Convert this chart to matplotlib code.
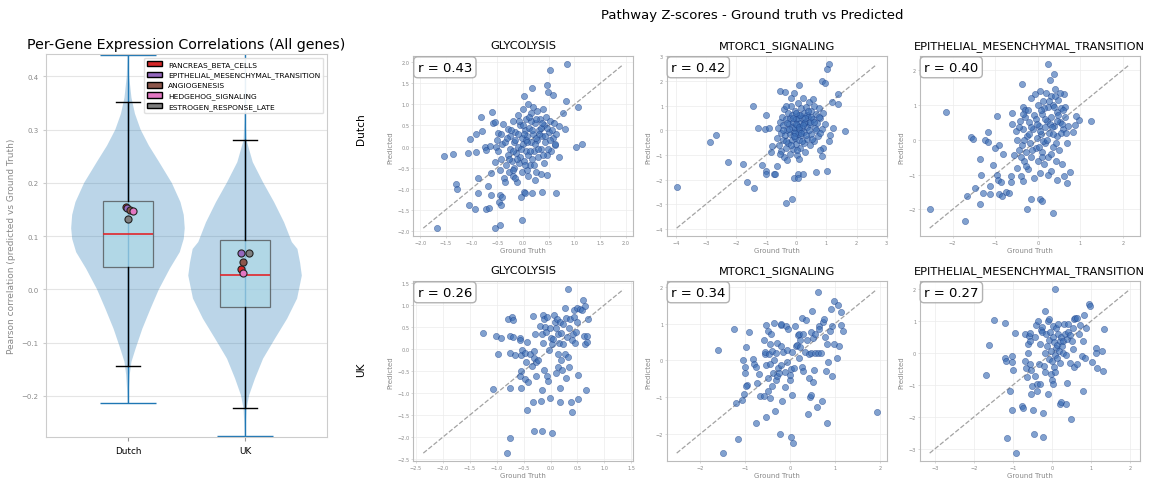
import numpy as np
import matplotlib
matplotlib.use('Agg')
import matplotlib.pyplot as plt
from matplotlib.patches import Patch
from matplotlib.ticker import MultipleLocator

plt.rcParams['font.family'] = ['DejaVu Sans']

# ---------------- 左图：每基因相关性（小提琴 + 箱线） ----------------
cohorts = ['Dutch', 'UK']

# 核密度轮廓（相关系数, 相对密度）
dutch_kde_y = [-0.214, -0.19, -0.16, -0.136, -0.111, -0.074, -0.036, 0.0, 0.039, 0.07,
               0.095, 0.115, 0.14, 0.164, 0.2, 0.24, 0.27, 0.30, 0.33, 0.36, 0.40, 0.4405]
dutch_kde_d = [0.3, 0.8, 1.8, 3.5, 7.7, 14.4, 22.7, 31, 42, 52,
               56, 57, 56, 52.7, 44, 31, 21, 12.7, 7, 3.5, 1.2, 0.4]
uk_kde_y = [-0.276, -0.25, -0.224, -0.199, -0.167, -0.13, -0.092, -0.055, -0.017, 0.026,
            0.05, 0.076, 0.089, 0.126, 0.164, 0.201, 0.239, 0.28, 0.32, 0.38, 0.52]
uk_kde_d = [0.3, 0.8, 1.5, 4, 10, 18, 30, 42, 52, 56.7,
            55, 52.3, 46.7, 39, 29, 18, 7.7, 1.5, 0.6, 0.2, 0.05]
violin_min = [-0.214, -0.276]
violin_max = [0.4405, 0.52]

box_q1 = [0.042, -0.033]
box_med = [0.105, 0.028]
box_q3 = [0.166, 0.093]
whisker_lo = [-0.1435, -0.222]
whisker_hi = [0.351, 0.2805]

pathways = ['PANCREAS_BETA_CELLS', 'EPITHELIAL_MESENCHYMAL_TRANSITION', 'ANGIOGENESIS',
            'HEDGEHOG_SIGNALING', 'ESTROGEN_RESPONSE_LATE']
pathway_colors = ['#d62728', '#9467bd', '#8c564b', '#e377c2', '#7f7f7f']
pathway_corr_dutch = [0.155, 0.153, 0.149, 0.148, 0.132]
pathway_corr_uk = [0.0375, 0.068, 0.051, 0.031, 0.068]
jitter_dutch = [-0.015, -0.01, 0.02, 0.045, 0.0]
jitter_uk = [-0.032, -0.037, -0.015, -0.015, 0.036]

# ---------------- 右图：通路 Z 分数（真实值, 预测值） ----------------
dutch_glycolysis = np.array([
    (-1.675, -1.94), (-1.54, -0.22), (-1.36, -0.17), (-1.3, -0.89), (-1.28, -1.0), (-1.07, -0.16),
    (-1.04, 0.19), (-1.05, -1.38), (-0.94, -1.49), (-0.92, 0.29), (-0.92, -0.13), (-0.88, -1.11),
    (-0.88, -0.76), (-0.81, 0.71), (-0.79, 0.37), (-0.74, 0.0), (-0.73, -0.08), (-0.72, -1.48),
    (-0.675, -0.94), (-0.67, -1.46), (-0.64, 0.02), (-0.625, -1.16), (-0.63, -0.62), (-0.6, 0.83),
    (-0.58, 0.57), (-0.54, 0.59), (-0.54, -1.94), (-0.54, -0.37), (-0.52, -0.02), (-0.48, 0.32),
    (-0.46, -1.31), (-0.45, -1.87), (-0.44, -1.16), (-0.41, -1.21), (-0.425, -1.4), (-0.39, 0.53),
    (-0.025, -1.75), (0.01, -1.07), (0.04, -1.1), (-0.04, -1.21), (0.18, -1.11), (0.17, 1.38),
    (0.02, 1.2), (0.375, -1.08), (0.64, -1.11), (0.525, 1.81), (0.856, 1.95), (0.46, 1.46),
    (0.49, 1.29), (0.59, 1.22), (0.84, 1.07), (1.06, 0.95), (1.025, 0.0), (1.14, 0.05),
    (0.81, 0.41), (0.77, 0.80), (0.69, 0.48), (0.7, -0.24), (0.62, 0.03), (0.47, -0.67),
    (0.34, -0.65), (0.225, -0.79),
    (-0.45, -0.55), (-0.42, -0.3), (-0.4, 0.05), (-0.38, -0.75), (-0.35, 0.1), (-0.33, -0.45),
    (-0.3, 0.42), (-0.3, -0.2), (-0.28, -0.6), (-0.26, 0.25), (-0.25, -0.05), (-0.22, -0.35),
    (-0.2, 0.6), (-0.2, -0.7), (-0.18, 0.1), (-0.17, -0.5), (-0.15, 0.35), (-0.14, -0.15),
    (-0.12, -0.85), (-0.1, 0.75), (-0.1, 0.0), (-0.08, -0.4), (-0.06, 0.5), (-0.05, -0.25),
    (-0.03, 0.2), (-0.02, -0.6), (0.0, 0.9), (0.0, 0.05), (0.02, -0.35), (0.03, 0.4),
    (0.05, -0.1), (0.06, 0.65), (0.08, -0.55), (0.08, 0.25), (0.1, 1.0), (0.1, -0.2),
    (0.12, 0.45), (0.13, -0.45), (0.15, 0.1), (0.16, 0.8), (0.18, -0.3), (0.2, 0.3),
    (0.2, 0.95), (0.22, -0.1), (0.24, 0.55), (0.25, -0.6), (0.27, 0.15), (0.28, 0.85),
    (0.3, -0.25), (0.31, 0.4), (0.33, 0.65), (0.35, -0.05), (0.36, 0.25), (0.38, 0.9),
    (0.4, -0.4), (0.41, 0.5), (0.43, 0.1), (0.45, 0.7), (0.47, -0.2), (0.5, 0.35),
    (0.52, 0.6), (0.55, -0.1), (0.58, 0.2), (0.6, 0.55), (0.63, 0.05), (0.65, 0.3),
    (-0.5, 0.15), (-0.48, -0.1), (0.0, 0.5), (0.15, 0.6), (-0.1, 0.3), (0.25, 0.2),
    (0.05, 0.15), (-0.2, -0.1), (0.35, 0.45),
    (-0.35, -0.85), (-0.32, 0.2), (-0.27, -0.3), (-0.23, 0.4), (-0.19, -0.55), (-0.16, 0.15),
    (-0.11, -0.3), (-0.07, 0.6), (-0.04, -0.05), (0.01, 0.3), (0.04, -0.45), (0.07, 0.1),
    (0.11, 0.7), (0.14, -0.1), (0.17, 0.4), (0.21, -0.45), (0.23, 0.05), (0.26, 0.65),
    (0.29, -0.05), (0.32, 0.3), (0.37, 0.55), (0.39, -0.2), (0.42, 0.25), (0.46, 0.45),
    (0.49, -0.05), (0.53, 0.15), (0.57, 0.4), (-0.42, 0.3), (-0.15, -0.75), (0.09, -0.7),
])

dutch_mtorc1 = np.array([
    (-3.97, -2.32), (-2.87, -0.47), (-2.66, -0.19), (-2.27, -1.29), (-1.78, -1.36), (-1.63, -2.08),
    (-1.40, -2.33), (-1.44, 0.97), (-1.27, 0.08), (-1.13, -1.40), (-1.04, 0.07), (-0.99, 0.63),
    (-1.01, -1.66), (-1.0, -1.78), (-0.92, 0.11), (-0.84, -0.88), (-0.81, -0.64), (-0.73, -1.79),
    (-0.69, -1.77), (-0.64, -1.44), (-0.53, 1.59), (-0.37, 1.55), (-0.19, 1.33), (0.10, 1.85),
    (-0.08, 1.5), (-0.35, -2.95), (-0.15, -2.77), (-0.08, -1.95), (0.06, -1.78), (0.21, -1.79),
    (0.06, -1.95), (0.64, -1.71), (1.02, -1.66), (1.10, 2.67), (1.03, 2.49), (0.84, 2.0),
    (0.96, 1.92), (1.40, 1.47), (1.38, 1.08), (1.18, 1.15), (1.21, 0.10), (1.62, -0.04),
    (1.13, -0.18), (1.10, -0.42), (0.9, -0.71), (0.84, -1.03), (0.79, -0.81),
    (-0.65, -0.3), (-0.6, 0.1), (-0.58, -0.6), (-0.55, 0.35), (-0.52, -0.1), (-0.5, -0.85),
    (-0.48, 0.55), (-0.45, -0.4), (-0.43, 0.2), (-0.4, -1.1), (-0.4, 0.85), (-0.38, -0.2),
    (-0.35, 0.45), (-0.33, -0.7), (-0.3, 0.0), (-0.28, -0.5), (-0.27, 0.7), (-0.25, 0.25),
    (-0.22, -0.95), (-0.2, -0.15), (-0.2, 0.5), (-0.18, 1.0), (-0.15, -0.4), (-0.13, 0.15),
    (-0.1, -0.75), (-0.1, 0.35), (-0.08, -0.05), (-0.05, 0.8), (-0.05, -0.3), (-0.03, 0.1),
    (0.0, -0.55), (0.0, 0.45), (0.02, -1.0), (0.03, 0.2), (0.05, -0.15), (0.06, 1.1),
    (0.08, 0.6), (0.1, -0.4), (0.1, 0.05), (0.12, 0.3), (0.14, -0.7), (0.15, 0.9),
    (0.17, -0.2), (0.2, 0.5), (0.2, 0.1), (0.22, 1.3), (0.24, -0.5), (0.25, 0.7),
    (0.27, -0.05), (0.3, 0.35), (0.3, -0.9), (0.33, 0.95), (0.35, 0.15), (0.37, -0.35),
    (0.4, 0.55), (0.42, 1.15), (0.45, -0.6), (0.47, 0.25), (0.5, 0.8), (0.5, -0.15),
    (0.55, 0.45), (0.58, 1.0), (0.6, -0.45), (0.62, 0.1), (0.65, 0.65), (0.7, 0.3),
    (0.72, -0.25), (0.75, 0.9), (0.8, 0.5), (0.85, 0.05), (0.9, 0.7), (0.95, 0.25),
    (-0.15, 0.6), (0.05, 0.5), (0.15, -0.1), (-0.3, 0.3), (0.35, 0.6), (0.25, 0.3),
    (-0.05, -0.1), (0.45, 0.35),
    (-0.55, -0.95), (-0.45, 0.0), (-0.35, -0.45), (-0.25, 0.05), (-0.18, -0.6), (-0.12, 0.5),
    (-0.07, -0.25), (0.0, 0.25), (0.04, -0.8), (0.09, 0.15), (0.13, 0.6), (0.18, -0.45),
    (0.23, 0.2), (0.28, 0.5), (0.32, -0.2), (0.38, 0.8), (0.43, 0.0), (0.48, 0.55),
    (0.53, -0.35), (0.6, 0.35), (0.67, 0.0), (0.75, 0.55), (-0.3, -1.2), (0.1, -1.15),
    (0.0, 0.7), (-0.35, 1.0), (0.55, 1.25), (0.8, -0.1),
])

dutch_emt = np.array([
    (-2.54, -1.98), (-2.16, 0.79), (-1.72, -2.34), (-1.67, -1.62), (-1.58, 0.08), (-1.53, 0.02),
    (-1.47, -1.38), (-1.35, -1.84), (-1.35, -0.55), (-1.33, -1.02), (-1.28, -1.53), (-1.23, -0.01),
    (-1.17, 0.23), (-1.17, -0.06), (-1.13, -1.32), (-1.13, -1.55), (-1.06, -0.73), (-1.01, -0.24),
    (-0.97, 0.67), (-0.95, -1.0), (-0.94, -1.17), (-0.91, -1.55), (-0.86, -1.22), (-0.83, -1.62),
    (-0.91, -0.16), (-0.81, -0.4), (-0.74, -1.50), (-0.68, -1.52), (-0.64, -1.05), (-0.62, -1.22),
    (-0.60, 0.76), (-0.60, 0.44), (-0.37, 1.59), (-0.34, 0.93), (-0.30, 0.65), (-0.26, -1.98),
    (-0.16, -1.70), (0.05, -1.69), (0.09, -1.75), (0.23, 2.16), (0.28, 1.70), (0.36, -2.12),
    (0.39, 1.89), (0.96, 0.56), (1.24, 0.54), (0.90, 0.68), (0.87, 0.43), (0.83, 0.22),
    (0.76, -0.94), (0.69, -1.23), (0.61, -1.05), (0.44, -1.16),
    (-0.55, -0.45), (-0.52, 0.25), (-0.5, -0.8), (-0.48, 0.0), (-0.45, -0.3), (-0.42, 0.55),
    (-0.4, -1.05), (-0.38, -0.15), (-0.35, 0.3), (-0.33, -0.6), (-0.3, 0.85), (-0.28, -0.35),
    (-0.25, 0.1), (-0.23, -0.85), (-0.2, 0.5), (-0.18, -0.1), (-0.15, 1.2), (-0.15, -0.5),
    (-0.12, 0.3), (-0.1, -1.1), (-0.08, 0.7), (-0.05, -0.25), (-0.03, 0.05), (0.0, 1.0),
    (0.0, -0.6), (0.02, 0.4), (0.05, -0.95), (0.06, 1.4), (0.08, 0.15), (0.1, -0.35),
    (0.1, 0.75), (0.13, 1.1), (0.15, -0.7), (0.16, 0.35), (0.18, -0.1), (0.2, 1.35),
    (0.22, 0.55), (0.24, -0.5), (0.25, 0.95), (0.27, 0.2), (0.3, 1.25), (0.3, -0.9),
    (0.32, 0.65), (0.35, -0.2), (0.36, 1.0), (0.38, 0.4), (0.4, 1.45), (0.42, -0.6),
    (0.44, 0.8), (0.45, 0.1), (0.47, 1.15), (0.5, -0.3), (0.52, 0.5), (0.55, 0.9),
    (0.57, -0.7), (0.6, 0.3), (0.62, 1.3), (0.65, 0.65), (0.68, -0.1), (0.7, 0.4),
    (-0.35, 0.75), (-0.05, 0.6), (0.12, -0.05), (0.28, 0.45), (0.45, 0.55), (0.05, 0.25),
    (-0.2, 0.15), (0.35, 0.15), (0.15, 0.9), (0.55, 0.2),
    (-0.45, 0.35), (-0.4, -0.5), (-0.32, 0.0), (-0.27, -0.75), (-0.22, 0.85), (-0.17, 0.35),
    (-0.13, -0.3), (-0.07, 1.3), (-0.02, 0.45), (0.03, -0.2), (0.07, 0.85), (0.11, -0.5),
    (0.17, 0.6), (0.21, 0.0), (0.26, 1.1), (0.31, -0.4), (0.34, 0.35), (0.39, 0.95),
    (0.43, -0.1), (0.48, 0.7), (0.53, 1.35), (0.58, 0.45), (0.63, 0.95), (0.66, 0.2),
    (0.25, -1.0), (-0.35, -1.2), (0.4, 1.25), (0.6, 0.85),
])

uk_glycolysis = np.array([
    (-1.25, 0.36), (-1.02, 0.30), (-0.92, 0.25), (-0.97, -0.11), (-1.07, -0.91), (-0.78, 0.67),
    (-0.72, 0.73), (-0.69, 0.65), (-0.75, 0.30), (-0.69, 0.27), (-0.76, -0.08), (-0.75, -0.89),
    (-0.76, -2.02), (-0.80, -2.36), (-0.65, -0.14), (-0.57, 0.26), (-0.56, 0.21), (-0.55, -0.14),
    (-0.54, -0.50), (-0.57, -0.61), (-0.54, -0.88), (-0.52, -0.02), (-0.48, -0.08), (-0.44, 0.17),
    (-0.45, -0.30), (-0.48, -0.68), (-0.44, -1.38), (-0.42, -0.74), (-0.38, -0.11), (-0.35, -0.38),
    (-0.33, 0.75), (-0.31, -0.05), (-0.33, -1.21), (-0.31, -1.86), (-0.30, -0.20), (-0.28, 0.33),
    (-0.27, -0.61), (-0.27, -0.30), (-0.23, -0.24), (-0.19, 0.53), (-0.17, -1.17), (-0.15, -0.92),
    (-0.15, -1.85), (-0.14, 0.78), (-0.13, 0.69), (-0.15, 0.33), (-0.14, 0.14), (-0.12, -0.48),
    (-0.10, 0.50), (-0.09, 0.39), (-0.07, 0.73), (-0.06, -0.61), (-0.04, -0.73), (-0.03, -0.03),
    (-0.01, -1.11), (-0.01, 0.48), (0.01, 0.24), (0.02, -1.91), (0.03, 0.11), (0.05, 0.23),
    (0.07, 0.78), (0.08, 0.61), (0.10, 0.48), (0.11, -0.55), (0.12, 0.67), (0.14, 0.35),
    (0.13, -0.11), (0.14, -0.40), (0.15, 0.14), (0.17, -0.88), (0.17, -1.20), (0.18, 0.61),
    (0.19, -0.26), (0.20, 0.36), (0.22, -0.48), (0.23, 0.11), (0.24, 0.56), (0.26, 0.92),
    (0.27, -0.11), (0.28, -0.65), (0.29, 0.70), (0.30, 0.27), (0.32, 1.35), (0.33, -0.18),
    (0.34, 0.48), (0.35, -0.41), (0.36, 0.67), (0.38, -1.21), (0.39, 0.20), (0.40, -1.42),
    (0.41, 0.35), (0.43, 0.89), (0.44, 0.73), (0.46, 0.14), (0.48, 0.39), (0.49, 0.61),
    (0.50, 0.94), (0.51, -1.14), (0.51, -0.58), (0.54, 0.91), (0.59, 0.88), (0.60, 1.12),
    (0.62, 0.29), (0.64, 0.12), (0.64, 0.98), (0.66, -0.93), (0.67, 0.30), (0.68, 0.17),
    (0.69, 0.69),
])

uk_mtorc1 = np.array([
    (-1.62, 0.28), (-1.49, -2.53), (-1.26, 0.85), (-1.21, -1.16), (-1.17, -2.15), (-1.07, -1.07),
    (-1.04, -0.91), (-1.05, 0.02), (-0.99, 0.37), (-1.0, -0.18), (-1.0, -0.35), (-0.97, -0.66),
    (-0.98, -0.71), (-0.92, 0.76), (-0.83, 0.04), (-0.81, -0.11), (-0.77, -0.18), (-0.77, -1.71),
    (-0.74, -0.63), (-0.70, -0.36), (-0.67, -0.96), (-0.59, -0.98), (-0.59, 0.56), (-0.57, 0.18),
    (-0.55, 0.22), (-0.54, -1.55), (-0.53, -0.12), (-0.53, 0.95), (-0.50, 0.81), (-0.50, -0.47),
    (-0.49, -0.84), (-0.47, 0.18), (-0.46, -0.09), (-0.45, 0.45), (-0.44, -1.02), (-0.42, 0.71),
    (-0.41, 0.25), (-0.41, -0.71), (-0.38, -0.34), (-0.37, 1.02), (-0.36, 0.0), (-0.34, -1.38),
    (-0.32, 0.2), (-0.31, -0.53), (-0.29, -0.42), (-0.29, 0.47), (-0.26, -0.21), (-0.25, -0.35),
    (-0.23, -2.0), (-0.21, 0.97), (-0.20, 1.0), (-0.20, 0.38), (-0.20, -0.13), (-0.18, -1.12),
    (-0.16, 0.22), (-0.12, -0.73), (-0.11, -0.33), (-0.10, 0.93), (-0.08, -0.05), (-0.06, 0.27),
    (-0.04, 0.84), (-0.01, -0.55), (0.0, -0.41), (0.02, -0.25), (0.03, -2.09), (0.04, 0.22),
    (0.05, -0.95), (0.07, -2.26), (0.08, -0.21), (0.11, 0.93), (0.12, 0.40), (0.15, 0.42),
    (0.17, 0.70), (0.20, 0.05), (0.20, 0.71), (0.22, 0.56), (0.23, 0.35), (0.26, 1.15),
    (0.27, -0.18), (0.29, 0.73), (0.29, -0.29), (0.32, 0.22), (0.35, 1.09), (0.37, 0.55),
    (0.39, -1.47), (0.41, -0.47), (0.43, 0.18), (0.44, -1.0), (0.46, 0.20), (0.47, 0.78),
    (0.47, -0.95), (0.48, 1.35), (0.50, 0.60), (0.52, -0.59), (0.53, -0.27), (0.55, 0.20),
    (0.56, 0.73), (0.59, -1.27), (0.61, 0.20), (0.62, 1.85), (0.64, 0.94), (0.65, 0.84),
    (0.68, 0.20), (0.71, -1.11), (0.73, 1.05), (0.76, 1.13), (0.78, 0.64), (0.79, -0.30),
    (0.82, 0.45), (0.83, -1.70), (0.84, -0.04), (0.88, 0.80), (0.91, 1.40), (0.93, 0.93),
    (0.94, -0.44), (0.97, 0.44), (0.98, 1.62), (1.05, 0.05), (1.07, 1.50), (1.10, 0.39),
    (1.14, 1.32), (1.14, 0.97), (1.18, 0.81), (1.93, -1.41),
])

uk_emt = np.array([
    (-1.70, -0.70), (-1.61, 0.24), (-1.48, 1.03), (-1.21, 0.93), (-1.20, -0.16), (-1.19, -0.26),
    (-1.15, -2.67), (-1.08, -1.18), (-1.04, -0.09), (-1.04, -0.28), (-1.04, -1.78), (-1.0, -0.53),
    (-0.94, 0.63), (-0.92, -3.14), (-0.78, -1.66), (-0.75, -1.72), (-0.69, 0.58), (-0.69, -0.26),
    (-0.67, -0.48), (-0.65, -0.76), (-0.63, 0.28), (-0.61, -0.01), (-0.60, 0.52), (-0.58, 0.39),
    (-0.58, 0.64), (-0.56, -0.34), (-0.54, -1.30), (-0.53, -0.52), (-0.52, -1.05), (-0.49, -1.80),
    (-0.47, -2.53), (-0.45, -0.73), (-0.43, 0.51), (-0.41, 0.89), (-0.39, -0.97), (-0.38, -1.18),
    (-0.37, 1.01), (-0.34, -0.36), (-0.32, 0.28), (-0.31, -0.97), (-0.29, 0.72), (-0.27, 0.82),
    (-0.25, 0.65), (-0.24, -2.64), (-0.23, -1.89), (-0.22, -0.40), (-0.19, -0.01), (-0.17, -0.61),
    (-0.17, 1.30), (-0.15, 0.59), (-0.14, 0.22), (-0.11, -1.28), (-0.10, 0.99), (-0.08, 0.41),
    (-0.08, -0.20), (-0.07, 1.07), (-0.05, 0.66), (-0.03, 0.07), (-0.02, -0.66), (-0.01, -0.84),
    (0.0, -0.24), (0.01, 0.51), (0.02, -0.97), (0.03, 0.86), (0.04, -0.45), (0.05, 0.33),
    (0.07, -0.07), (0.08, 1.99), (0.08, -0.61), (0.10, 0.78), (0.10, 0.16), (0.12, 0.24),
    (0.13, -0.16), (0.14, 0.59), (0.15, 0.91), (0.17, 0.07), (0.19, 0.36), (0.19, -0.30),
    (0.21, -1.61), (0.22, -1.54), (0.23, 0.49), (0.25, 0.22), (0.27, 0.01), (0.29, 0.36),
    (0.31, 0.91), (0.32, 0.59), (0.35, -1.59), (0.36, -0.05), (0.37, -0.95), (0.38, 0.43),
    (0.41, 0.66), (0.42, 0.91), (0.45, -0.30), (0.47, 0.57), (0.48, -2.06), (0.50, 0.39),
    (0.53, 0.78), (0.54, 0.13), (0.56, 1.05), (0.57, -0.45), (0.59, 1.11), (0.63, -0.36),
    (0.65, 1.09), (0.69, 0.61), (0.72, 0.89), (0.76, -0.11), (0.78, -1.18), (0.80, 0.39),
    (0.83, 1.20), (0.85, -0.16), (0.88, 0.78), (0.95, 1.53), (0.96, 1.47), (1.02, -0.28),
    (1.12, 0.16), (1.13, 0.01), (1.14, -0.47), (1.29, 0.05), (1.31, -0.57), (1.32, 0.74),
])

panel_titles = ['GLYCOLYSIS', 'MTORC1_SIGNALING', 'EPITHELIAL_MESENCHYMAL_TRANSITION']
panel_data = [[dutch_glycolysis, dutch_mtorc1, dutch_emt],
              [uk_glycolysis, uk_mtorc1, uk_emt]]
panel_r = [[0.43, 0.42, 0.40], [0.26, 0.34, 0.27]]
tick_steps = [[0.5, 1, 1], [0.5, 1, 1]]

# ---------------- 绘图 ----------------
W, H = 1153, 481
fig = plt.figure(figsize=(W / 100, H / 100), dpi=100)


def px_axes(left, top, width, height):
    return fig.add_axes([left / W, 1 - (top + height) / H, width / W, height / H])


light = '#cccccc'
gray_txt = '#888888'

# 左侧小提琴图
ax = px_axes(46, 55, 281, 383)
vpstats = []
for yy, dd, lo, hi, med in [(dutch_kde_y, dutch_kde_d, violin_min[0], violin_max[0], box_med[0]),
                            (uk_kde_y, uk_kde_d, violin_min[1], violin_max[1], box_med[1])]:
    vpstats.append(dict(coords=np.array(yy), vals=np.array(dd, dtype=float),
                        mean=med, median=med, min=lo, max=hi))
vp = ax.violin(vpstats, positions=[1, 2], widths=0.97, showextrema=True)
for body in vp['bodies']:
    body.set_facecolor('#1f77b4')
    body.set_edgecolor('none')
    body.set_alpha(0.3)
for key in ['cmins', 'cmaxes', 'cbars']:
    vp[key].set_color('#1f77b4')
    vp[key].set_linewidth(1)

bstats = []
for i in range(2):
    bstats.append(dict(med=box_med[i], q1=box_q1[i], q3=box_q3[i],
                       whislo=whisker_lo[i], whishi=whisker_hi[i], fliers=[]))
ax.bxp(bstats, positions=[1, 2], widths=0.42, patch_artist=True, showfliers=False,
       boxprops=dict(facecolor='lightblue', edgecolor='#444444', alpha=0.7, linewidth=0.9),
       medianprops=dict(color='#e0262b', linewidth=1.2),
       whiskerprops=dict(color='black', linewidth=1),
       capprops=dict(color='black', linewidth=1))

for k in range(len(pathways)):
    ax.scatter([1 + jitter_dutch[k], 2 + jitter_uk[k]],
               [pathway_corr_dutch[k], pathway_corr_uk[k]],
               s=26, color=pathway_colors[k], edgecolors='#222222', linewidths=0.8, zorder=5)

handles = [Patch(facecolor=c, edgecolor='black', label=p) for p, c in zip(pathways, pathway_colors)]
ax.legend(handles=handles, loc='upper right', fontsize=5.4, framealpha=0.9, edgecolor='#dddddd',
          fancybox=True)

ax.set_xlim(0.3, 2.7)
ax.set_ylim(-0.277, 0.442)
ax.set_xticks([1, 2])
ax.set_xticklabels(cohorts, fontsize=6.4)
ax.yaxis.set_major_locator(MultipleLocator(0.1))
ax.tick_params(axis='y', labelsize=5, labelcolor=gray_txt, length=2, color=light)
ax.tick_params(axis='x', length=3, color='#999999')
ax.grid(axis='y', color='#e5e5e5', linewidth=0.8)
ax.set_axisbelow(True)
for s in ax.spines.values():
    s.set_color(light)
ax.set_ylabel('Pearson correlation (predicted vs Ground Truth)', fontsize=6.5, color=gray_txt, labelpad=4)
ax.set_title('Per-Gene Expression Correlations (All genes)', fontsize=10.3, pad=4)

# 右侧散点图
lefts = [413.3, 666.7, 919.7]
tops = [57.3, 282.3]
for r in range(2):
    for c in range(3):
        a = px_axes(lefts[c], tops[r], 220, 180)
        d = panel_data[r][c]
        x, y = d[:, 0], d[:, 1]
        lo = min(x.min(), y.min())
        hi = max(x.max(), y.max())
        a.plot([lo, hi], [lo, hi], ls='--', color='#999999', lw=0.9, alpha=0.9, zorder=1)
        a.scatter(x, y, s=20, color='#3d6fb6', alpha=0.65, edgecolors='#1a3f8a',
                  linewidths=0.4, zorder=2)
        a.xaxis.set_major_locator(MultipleLocator(tick_steps[r][c]))
        a.yaxis.set_major_locator(MultipleLocator(tick_steps[r][c]))
        a.tick_params(labelsize=3.6, labelcolor=gray_txt, length=1.5, width=0.5, color=light, pad=1)
        a.grid(color='#ececec', linewidth=0.5)
        a.set_axisbelow(True)
        for s in a.spines.values():
            s.set_color('#bbbbbb')
            s.set_linewidth(0.8)
        a.set_xlabel('Ground Truth', fontsize=5, color=gray_txt, labelpad=1.5)
        a.set_ylabel('Predicted', fontsize=5, color=gray_txt, labelpad=3)
        a.set_title(panel_titles[c], fontsize=8.2)
        a.text(0.02, 0.975, f'r = {panel_r[r][c]:.2f}', transform=a.transAxes,
               ha='left', va='top', fontsize=9.5,
               bbox=dict(boxstyle='round,pad=0.3', facecolor='white', edgecolor='#aaaaaa', alpha=0.9))

fig.text(360.7 / W, 1 - 129 / H, 'Dutch', rotation=90, ha='center', va='center', fontsize=7.7)
fig.text(360.7 / W, 1 - 370 / H, 'UK', rotation=90, ha='center', va='center', fontsize=7.7)
fig.text(752 / W, 1 - 16 / H, 'Pathway Z-scores - Ground truth vs Predicted',
         ha='center', va='center', fontsize=9.5)

fig.savefig('out.png', dpi=100)
